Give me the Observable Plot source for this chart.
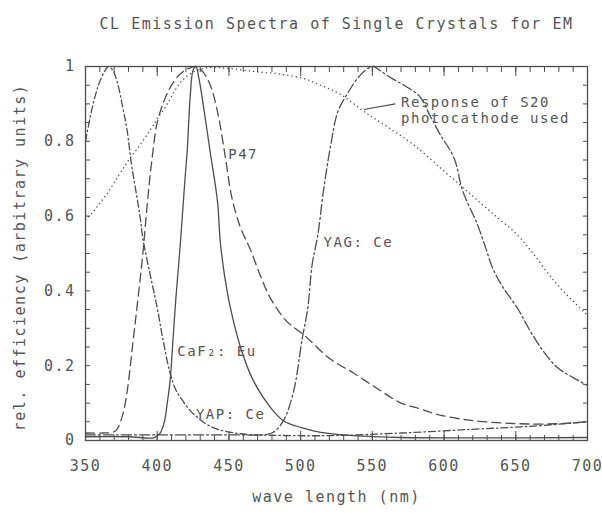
<!DOCTYPE html>
<html>
<head>
<meta charset="utf-8">
<script src="https://cdn.jsdelivr.net/npm/d3@7"></script>
<script src="https://cdn.jsdelivr.net/npm/@observablehq/plot@0.6"></script>
<style>
  body { margin: 0; background: #ffffff; }
  .chart text { letter-spacing: 1.5px; }
</style>
</head>
<body>
<div id="chart"></div>
<script>
// ---- data ----
const title = "CL Emission Spectra of Single Crystals for EM";
const xLabel = "wave length (nm)";
const yLabel = "rel. efficiency (arbitrary units)";

const xMajorTicks = [350, 400, 450, 500, 550, 600, 650, 700];
const yMajorTicks = [0, 0.2, 0.4, 0.6, 0.8, 1];

// YAP: Ce (dash-dot)
const yapWl  = [350, 353, 356, 359, 363, 366, 369, 372, 376, 379, 382, 385, 388, 390, 395, 400, 404, 409, 413, 418, 423, 428, 435, 444, 458, 480, 520, 570, 620, 660, 700];
const yapVal = [0.80, 0.86, 0.91, 0.95, 0.985, 1.0, 0.99, 0.96, 0.89, 0.83, 0.74, 0.67, 0.6, 0.54, 0.445, 0.355, 0.27, 0.18, 0.135, 0.105, 0.08, 0.062, 0.042, 0.028, 0.018, 0.014, 0.013, 0.02, 0.03, 0.038, 0.05];

// P47 (long dashes)
const p47Wl  = [350, 362, 369, 372, 376, 379, 383, 386, 390, 393, 396, 400, 405, 410, 416, 422, 427, 432, 437, 442, 447, 452, 458, 465, 472, 479, 490, 503, 520, 537, 555, 570, 583, 595, 616, 640, 662, 680, 700];
const p47Val = [0.02, 0.02, 0.022, 0.03, 0.07, 0.13, 0.26, 0.36, 0.5, 0.63, 0.74, 0.85, 0.91, 0.95, 0.98, 0.995, 1.0, 0.985, 0.95, 0.88, 0.77, 0.65, 0.57, 0.51, 0.44, 0.38, 0.32, 0.28, 0.22, 0.18, 0.135, 0.1, 0.085, 0.07, 0.055, 0.047, 0.044, 0.045, 0.05];

// CaF2: Eu (solid)
const cafWl  = [350, 380, 398, 402, 405, 407, 409, 411, 413, 416, 419, 421, 423, 425, 427, 429, 432, 437, 442, 444, 447, 451, 458, 467, 479, 488, 500, 514, 537, 570, 620, 700];
const cafVal = [0.01, 0.01, 0.008, 0.02, 0.05, 0.1, 0.16, 0.27, 0.38, 0.52, 0.68, 0.78, 0.92, 0.99, 1.0, 0.97, 0.9, 0.77, 0.64, 0.53, 0.44, 0.355, 0.25, 0.16, 0.088, 0.053, 0.035, 0.022, 0.013, 0.008, 0.007, 0.008];

// YAG: Ce (dash-dot, long)
const yagWl  = [350, 400, 450, 476, 481, 488, 495, 501, 505, 508, 512, 516, 521, 526, 533, 540, 547, 551, 555, 565, 572, 583, 590, 597, 607, 613, 623, 629, 634, 641, 651, 660, 669, 679, 690, 700];
const yagVal = [0.015, 0.015, 0.015, 0.016, 0.022, 0.053, 0.13, 0.27, 0.355, 0.47, 0.55, 0.67, 0.79, 0.88, 0.93, 0.97, 0.995, 1.0, 0.99, 0.965, 0.95, 0.92, 0.87, 0.82, 0.755, 0.667, 0.58, 0.515, 0.46, 0.41, 0.355, 0.293, 0.24, 0.195, 0.168, 0.147];

// Response of S20 photocathode (dotted)
const s20Wl  = [350, 355, 360, 365, 370, 375, 381, 388, 395, 400, 407, 413, 418, 425, 435, 449, 467, 485, 502, 514, 528, 544, 560, 579, 600, 616, 632, 651, 662, 676, 688, 700];
const s20Val = [0.59, 0.61, 0.635, 0.66, 0.69, 0.72, 0.755, 0.79, 0.83, 0.86, 0.9, 0.94, 0.965, 0.985, 0.997, 0.995, 0.987, 0.98, 0.968, 0.95, 0.925, 0.88, 0.84, 0.79, 0.72, 0.667, 0.613, 0.55, 0.5, 0.43, 0.38, 0.335];

// curve labels (anchored in data coordinates)
const labelText = ["P47", "YAG: Ce", "CaF\u2082: Eu", "YAP: Ce", "Response of S20\nphotocathode used"];
const labelWl   = [449.5, 516, 414, 427, 570];
const labelVal  = [0.765, 0.53, 0.24, 0.07, 0.884];

// leader for the S20 label
const leaderWl1 = [544], leaderVal1 = [0.885], leaderWl2 = [566], leaderVal2 = [0.9];

// ---- build ----
const zip = (w, v) => w.map((x, i) => ({x, y: v[i]}));
const yap = zip(yapWl, yapVal);
const p47 = zip(p47Wl, p47Val);
const caf = zip(cafWl, cafVal);
const yag = zip(yagWl, yagVal);
const s20 = zip(s20Wl, s20Val);
const labels = labelText.map((t, i) => ({t, x: labelWl[i], y: labelVal[i]}));
const leaders = leaderWl1.map((x, i) => ({x1: x, y1: leaderVal1[i], x2: leaderWl2[i], y2: leaderVal2[i]}));

const xMinor = d3.range(350, 701, 10);
const yMinor = d3.range(0, 1.0001, 0.05);
const ink = "#4d4d4d";
const lw = 1.3;

const chart = Plot.plot({
  width: 602,
  height: 521,
  marginLeft: 85,
  marginRight: 15,
  marginTop: 66,
  marginBottom: 81,
  className: "chart",
  style: {fontFamily: "'DejaVu Sans Mono', monospace", fontSize: "14px", color: "#555", background: "#fff"},
  x: {domain: [350, 700]},
  y: {domain: [0, 1]},
  marks: [
    Plot.line(s20, {x: "x", y: "y", stroke: ink, strokeWidth: 1.4, strokeDasharray: "0.1,4.2", strokeLinecap: "round", curve: "catmull-rom"}),
    Plot.line(yap, {x: "x", y: "y", stroke: ink, strokeWidth: lw, strokeDasharray: "7,3,1.5,3", curve: "catmull-rom"}),
    Plot.line(p47, {x: "x", y: "y", stroke: ink, strokeWidth: lw, strokeDasharray: "9,5", curve: "catmull-rom"}),
    Plot.line(caf, {x: "x", y: "y", stroke: ink, strokeWidth: lw, curve: "catmull-rom"}),
    Plot.line(yag, {x: "x", y: "y", stroke: ink, strokeWidth: lw, strokeDasharray: "10,3,2,3", curve: "catmull-rom"}),
    Plot.link(leaders, {x1: "x1", y1: "y1", x2: "x2", y2: "y2", stroke: ink, strokeWidth: 1.2}),
    Plot.text(labels, {x: "x", y: "y", text: "t", textAnchor: "start", lineHeight: 1.1, fill: "#555", fontSize: 14}),
    // frame and inward ticks
    Plot.frame({stroke: ink, strokeWidth: 1.3}),
    Plot.axisX({anchor: "bottom", ticks: xMinor, tickSize: -5, text: null, label: null, stroke: ink}),
    Plot.axisX({anchor: "top", ticks: xMinor, tickSize: -5, text: null, label: null, stroke: ink}),
    Plot.axisX({anchor: "bottom", ticks: xMajorTicks, tickSize: -9, text: null, label: null, stroke: ink}),
    Plot.axisX({anchor: "top", ticks: xMajorTicks, tickSize: -9, text: null, label: null, stroke: ink}),
    Plot.axisX({anchor: "bottom", ticks: xMajorTicks, tickSize: 0, tickPadding: 20, label: null, fontSize: 15}),
    Plot.axisY({anchor: "left", ticks: yMinor, tickSize: -5, text: null, label: null, stroke: ink}),
    Plot.axisY({anchor: "right", ticks: yMinor, tickSize: -5, text: null, label: null, stroke: ink}),
    Plot.axisY({anchor: "left", ticks: yMajorTicks, tickSize: 0, tickPadding: 10, label: null, fontSize: 15, tickFormat: d => String(d)}),
    // titles
    Plot.text([title], {text: d => d, frameAnchor: "top", dy: -48, fontSize: 15, fill: "#555"}),
    Plot.text([xLabel], {text: d => d, frameAnchor: "bottom", dy: 61, fontSize: 15, fill: "#555"}),
    Plot.text([yLabel], {text: d => d, frameAnchor: "left", textAnchor: "middle", dx: -65, dy: 4, rotate: -90, fontSize: 15, fill: "#555"})
  ]
});
document.getElementById("chart").appendChild(chart);
</script>
</body>
</html>
